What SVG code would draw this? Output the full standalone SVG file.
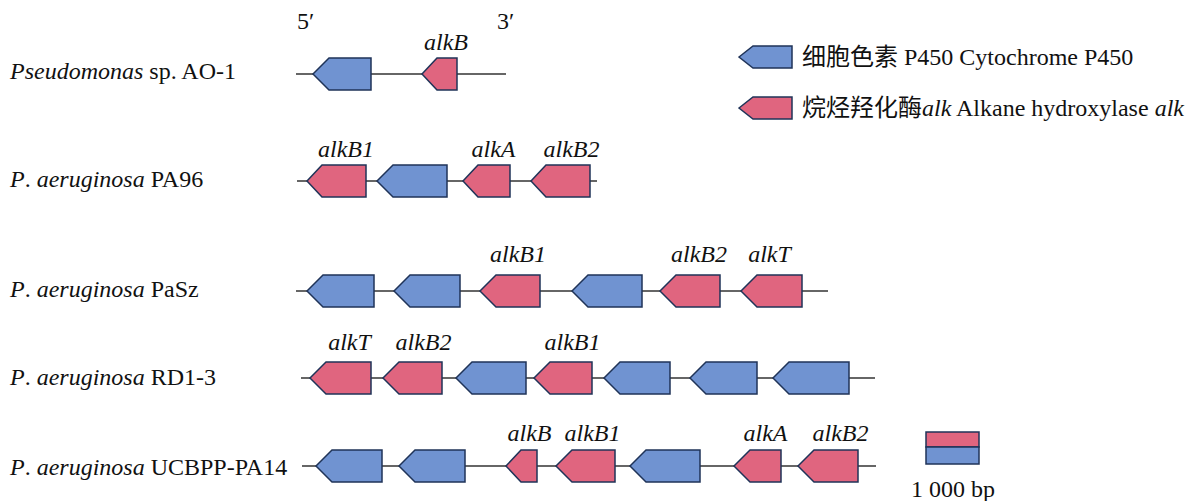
<svg xmlns="http://www.w3.org/2000/svg" width="1191" height="501" viewBox="0 0 1191 501">
<style>
text{font-family:"Liberation Serif","Times New Roman",serif;font-size:24px;fill:#111}
.cjk{font-family:"Noto Sans CJK SC","Noto Sans CJK JP",sans-serif;font-size:24px}
.i{font-style:italic}
.g{text-anchor:middle;font-style:italic}
.b{fill:#7093D1;stroke:#1F3358;stroke-width:1.5}
.p{fill:#E0657F;stroke:#1F3358;stroke-width:1.5}
.ln{stroke:#333;stroke-width:1.6}
</style>
<rect width="1191" height="501" fill="#fff"/>
<g id="connectors">
<line class="ln" x1="296" y1="74" x2="506" y2="74"/>
<line class="ln" x1="297" y1="181" x2="597" y2="181"/>
<line class="ln" x1="296" y1="291" x2="828" y2="291"/>
<line class="ln" x1="301" y1="378" x2="875" y2="378"/>
<line class="ln" x1="302" y1="466" x2="876" y2="466"/>
</g>
<g id="ends"><text x="297" y="29">5′</text><text x="497" y="29">3′</text></g>
<g id="row1">
<text x="10" y="79"><tspan class="i">Pseudomonas</tspan> sp. AO-1</text>
<g id="r1g1"><polygon class="b" points="313,74 329,58 371,58 371,90 329,90"/></g>
<g id="r1g2"><polygon class="p" points="422,74 437,58 457,58 457,90 437,90"/><text class="g" x="446" y="50">alkB</text></g>
</g>
<g id="row2">
<text x="10" y="187"><tspan class="i">P</tspan>. <tspan class="i">aeruginosa</tspan> PA96</text>
<g id="r2g1"><polygon class="p" points="307,181 322,165 366,165 366,197 322,197"/><text class="g" x="346" y="157">alkB1</text></g>
<g id="r2g2"><polygon class="b" points="377,181 393,165 447,165 447,197 393,197"/></g>
<g id="r2g3"><polygon class="p" points="463,181 478,165 510,165 510,197 478,197"/><text class="g" x="493.5" y="157">alkA</text></g>
<g id="r2g4"><polygon class="p" points="531,181 546,165 590,165 590,197 546,197"/><text class="g" x="571.5" y="157">alkB2</text></g>
</g>
<g id="row3">
<text x="10" y="297"><tspan class="i">P</tspan>. <tspan class="i">aeruginosa</tspan> PaSz</text>
<g id="r3g1"><polygon class="b" points="307,291 323,275 374,275 374,307 323,307"/></g>
<g id="r3g2"><polygon class="b" points="394,291 410,275 460,275 460,307 410,307"/></g>
<g id="r3g3"><polygon class="p" points="480,291 496,275 540,275 540,307 496,307"/><text class="g" x="518" y="262">alkB1</text></g>
<g id="r3g4"><polygon class="b" points="572,291 588,275 642,275 642,307 588,307"/></g>
<g id="r3g5"><polygon class="p" points="660,291 676,275 720,275 720,307 676,307"/><text class="g" x="699" y="262">alkB2</text></g>
<g id="r3g6"><polygon class="p" points="741,291 757,275 802,275 802,307 757,307"/><text class="g" x="769.5" y="262">alkT</text></g>
</g>
<g id="row4">
<text x="10" y="385"><tspan class="i">P</tspan>. <tspan class="i">aeruginosa</tspan> RD1-3</text>
<g id="r4g1"><polygon class="p" points="310,378 326,362 371,362 371,394 326,394"/><text class="g" x="349.5" y="350">alkT</text></g>
<g id="r4g2"><polygon class="p" points="383,378 399,362 442,362 442,394 399,394"/><text class="g" x="423.5" y="350">alkB2</text></g>
<g id="r4g3"><polygon class="b" points="456,378 472,362 526,362 526,394 472,394"/></g>
<g id="r4g4"><polygon class="p" points="534,378 550,362 592,362 592,394 550,394"/><text class="g" x="572.5" y="350">alkB1</text></g>
<g id="r4g5"><polygon class="b" points="604,378 620,362 670,362 670,394 620,394"/></g>
<g id="r4g6"><polygon class="b" points="690,378 706,362 757,362 757,394 706,394"/></g>
<g id="r4g7"><polygon class="b" points="773,378 789,362 849,362 849,394 789,394"/></g>
</g>
<g id="row5">
<text x="10" y="475"><tspan class="i">P</tspan>. <tspan class="i">aeruginosa</tspan> UCBPP-PA14</text>
<g id="r5g1"><polygon class="b" points="316,466 332,450 382,450 382,482 332,482"/></g>
<g id="r5g2"><polygon class="b" points="399,466 415,450 465,450 465,482 415,482"/></g>
<g id="r5g3"><polygon class="p" points="506,466 521,450 537,450 537,482 521,482"/><text class="g" x="529.5" y="441">alkB</text></g>
<g id="r5g4"><polygon class="p" points="556,466 572,450 615,450 615,482 572,482"/><text class="g" x="592.5" y="441">alkB1</text></g>
<g id="r5g5"><polygon class="b" points="630,466 646,450 700,450 700,482 646,482"/></g>
<g id="r5g6"><polygon class="p" points="734,466 750,450 781,450 781,482 750,482"/><text class="g" x="765.5" y="441">alkA</text></g>
<g id="r5g7"><polygon class="p" points="798,466 814,450 858,450 858,482 814,482"/><text class="g" x="840.5" y="441">alkB2</text></g>
</g>
<g id="legend">
<g id="leg-blue"><polygon class="b" points="739,57 753,46 792,46 792,68 753,68"/><text x="802" y="65"><tspan class="cjk">细胞色素</tspan> P450 Cytochrome P450</text></g>
<g id="leg-pink"><polygon class="p" points="739,108 753,97 792,97 792,119 753,119"/><text x="802" y="116"><tspan class="cjk">烷烃羟化酶</tspan><tspan class="i">alk</tspan> Alkane hydroxylase <tspan class="i">alk</tspan></text></g>
</g>
<g id="scale">
<rect class="p" x="926" y="432" width="53" height="15"/>
<rect class="b" x="926" y="447" width="53" height="17"/>
<text x="911" y="497">1 000 bp</text>
</g>
</svg>
